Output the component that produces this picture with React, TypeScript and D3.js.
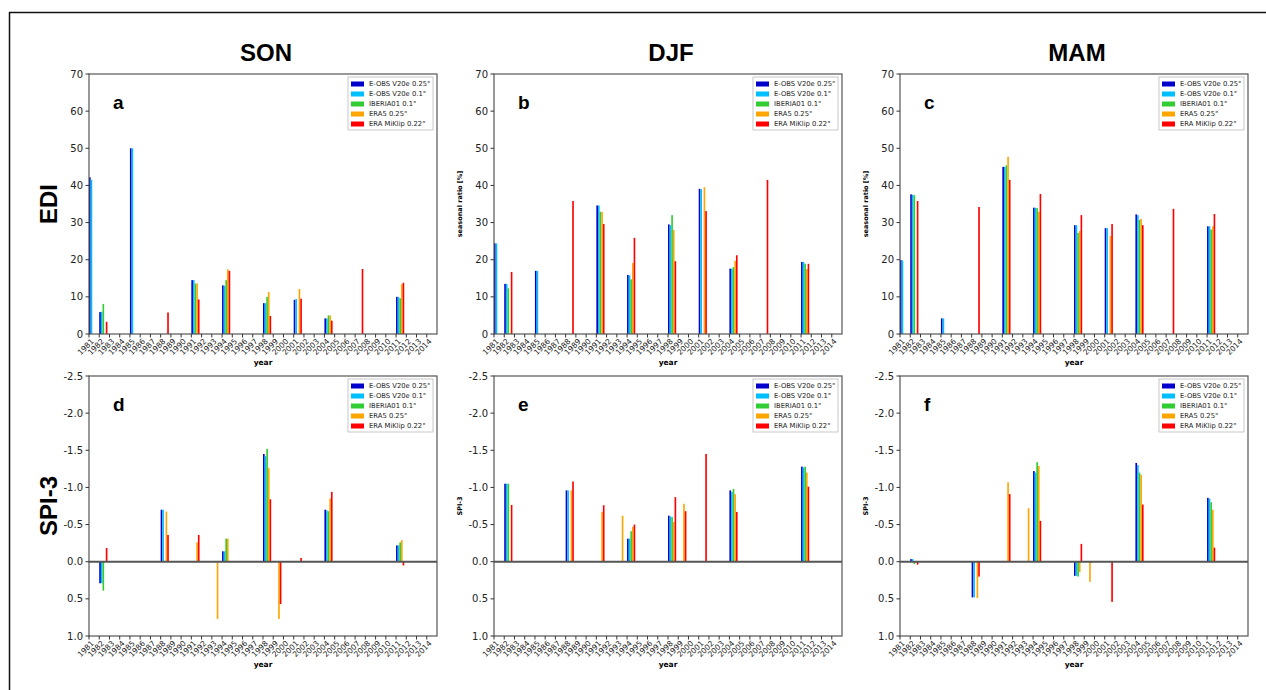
import React from "react";
import * as d3 from "d3";

const seasons = ["SON", "DJF", "MAM"];
const rowLabels = ["EDI", "SPI-3"];
const panelLetters = [["a", "b", "c"], ["d", "e", "f"]];
const seriesNames = ["E-OBS V20e 0.25°", "E-OBS V20e 0.1°", "IBERIA01 0.1°", "ERA5 0.25°", "ERA MiKlip 0.22°"];
const seriesColors = ["#0000cd", "#00bfff", "#32cd32", "#ffa500", "#ff0000"];
const allYears = d3.range(1981, 2015);

const ediYears = [1981, 1982, 1985, 1988, 1991, 1994, 1998, 2001, 2004, 2007, 2011];
const spiYears = [1982, 1988, 1991, 1993, 1994, 1998, 1999, 2001, 2004, 2011];

// EDI seasonal ratio [%]
const ediSonEobs025 = [42.2, 5.9, 50, null, 14.5, 13.1, 8.3, 9.2, 4.2, null, 10.0];
const ediSonEobs01 = [41.5, 6.0, 50, null, 14.5, 13.0, 8.3, 9.4, 4.2, null, 10.0];
const ediSonIberia = [null, 8.1, null, null, 13.6, 14.5, 10.0, null, 5.0, null, 9.6];
const ediSonEra5 = [null, null, null, null, 13.6, 17.4, 11.3, 12.1, 5.0, null, 13.4];
const ediSonMiklip = [null, 3.3, null, 5.8, 9.3, 17.0, 4.85, 9.5, 3.6, 17.5, 13.8];

const ediDjfEobs025 = [24.4, 13.5, 17.0, null, 34.6, 15.9, 29.5, 39.1, 17.6, null, 19.4];
const ediDjfEobs01 = [24.4, 13.5, 17.0, null, 34.6, 15.8, 29.3, 39.0, 17.6, null, 19.4];
const ediDjfIberia = [null, 12.3, null, null, 32.9, 14.7, 32.0, null, 18.0, null, 18.9];
const ediDjfEra5 = [null, null, null, null, 32.9, 19.1, 28.0, 39.5, 19.7, null, 17.5];
const ediDjfMiklip = [null, 16.7, null, 35.8, 29.6, 25.9, 19.6, 33.1, 21.2, 41.5, 18.9];

const ediMamEobs025 = [19.9, 37.6, 4.2, null, 45.0, 34.0, 29.3, 28.5, 32.2, null, 29.0];
const ediMamEobs01 = [19.8, 37.5, 4.2, null, 45.0, 34.0, 29.3, 28.5, 32.0, null, 29.0];
const ediMamIberia = [null, 37.4, null, null, 45.4, 33.9, 27.2, null, 30.7, null, 28.1];
const ediMamEra5 = [null, null, null, null, 47.7, 32.9, 27.7, 26.4, 31.0, null, 29.0];
const ediMamMiklip = [null, 35.8, null, 34.2, 41.5, 37.7, 32.0, 29.6, 29.3, 33.7, 32.3];

// SPI-3
const spiSonEobs025 = [0.29, -0.7, null, null, -0.14, -1.45, null, null, -0.7, -0.22];
const spiSonEobs01 = [0.29, -0.7, null, null, -0.14, -1.42, null, null, -0.69, -0.22];
const spiSonIberia = [0.39, null, null, null, -0.31, -1.52, null, null, -0.68, -0.26];
const spiSonEra5 = [null, -0.675, -0.26, 0.77, -0.31, -1.26, 0.77, null, -0.85, -0.29];
const spiSonMiklip = [-0.185, -0.36, -0.36, null, null, -0.84, 0.57, -0.05, -0.94, 0.05];

const spiDjfEobs025 = [-1.05, -0.96, null, null, -0.31, -0.62, null, null, -0.96, -1.28];
const spiDjfEobs01 = [-1.05, -0.96, null, null, -0.31, -0.61, null, null, -0.94, -1.27];
const spiDjfIberia = [-1.05, null, null, null, -0.41, -0.6, null, null, -0.98, -1.28];
const spiDjfEra5 = [null, -0.96, -0.67, -0.62, -0.47, -0.535, -0.78, null, -0.91, -1.2];
const spiDjfMiklip = [-0.765, -1.08, -0.76, null, -0.5, -0.87, -0.68, -1.45, -0.67, -1.01];

const spiMamEobs025 = [-0.035, 0.48, null, null, -1.22, 0.19, null, null, -1.33, -0.86];
const spiMamEobs01 = [-0.035, 0.48, null, null, -1.2, 0.19, null, null, -1.3, -0.85];
const spiMamIberia = [0.03, null, null, null, -1.34, 0.2, null, null, -1.2, -0.8];
const spiMamEra5 = [0.01, 0.49, -1.07, -0.72, -1.29, 0.14, 0.27, null, -1.17, -0.7];
const spiMamMiklip = [0.04, 0.2, -0.91, null, -0.55, -0.24, 0.01, 0.54, -0.77, -0.19];

const ediTicks = [0, 10, 20, 30, 40, 50, 60, 70];
const spiTicks = [-2.5, -2.0, -1.5, -1.0, -0.5, 0.0, 0.5, 1.0];

const panels = [
  [
    { years: ediYears, series: [ediSonEobs025, ediSonEobs01, ediSonIberia, ediSonEra5, ediSonMiklip] },
    { years: ediYears, series: [ediDjfEobs025, ediDjfEobs01, ediDjfIberia, ediDjfEra5, ediDjfMiklip] },
    { years: ediYears, series: [ediMamEobs025, ediMamEobs01, ediMamIberia, ediMamEra5, ediMamMiklip] },
  ],
  [
    { years: spiYears, series: [spiSonEobs025, spiSonEobs01, spiSonIberia, spiSonEra5, spiSonMiklip] },
    { years: spiYears, series: [spiDjfEobs025, spiDjfEobs01, spiDjfIberia, spiDjfEra5, spiDjfMiklip] },
    { years: spiYears, series: [spiMamEobs025, spiMamEobs01, spiMamIberia, spiMamEra5, spiMamMiklip] },
  ],
];

const colLeft = [89, 494, 900];
const rowTop = [74, 376];
const plotW = 348;
const plotH = 260;
const barStep = 0.16;

const tickFont = "'DejaVu Sans', sans-serif";
const titleFont = "'Liberation Sans', Arial, sans-serif";

function Panel({ row, col }: { row: number; col: number }) {
  const left = colLeft[col];
  const top = rowTop[row];
  const right = left + plotW;
  const bottom = top + plotH;
  const { years, series } = panels[row][col];
  const isEdi = row === 0;

  const x = d3.scaleLinear().domain([1981, 2015]).range([left, right]);
  const y = isEdi
    ? d3.scaleLinear().domain([0, 70]).range([bottom, top])
    : d3.scaleLinear().domain([-2.5, 1.0]).range([top, bottom]);
  const yTicks = isEdi ? ediTicks : spiTicks;
  const fmt = isEdi ? d3.format("d") : (v: number) => v.toFixed(1);

  return (
    <g>
      {series.map((vals, si) =>
        years.map((yr, yi) => {
          const v = vals[yi];
          if (v === null || v === undefined) return null;
          const x0 = x(yr + si * barStep);
          const x1 = x(yr + (si + 1) * barStep);
          const y0 = y(0);
          const y1 = y(v);
          return (
            <rect
              key={`${si}-${yr}`}
              x={x0}
              width={x1 - x0}
              y={Math.min(y0, y1)}
              height={Math.abs(y1 - y0)}
              fill={seriesColors[si]}
            />
          );
        })
      )}
      {!isEdi && <line x1={left} x2={right} y1={y(0)} y2={y(0)} stroke="#555" strokeWidth={2} />}
      <rect x={left} y={top} width={plotW} height={plotH} fill="none" stroke="#555" strokeWidth={1.2} />
      {yTicks.map((t) => (
        <g key={t}>
          <line x1={left - 3.5} x2={left} y1={y(t)} y2={y(t)} stroke="#333" />
          <text x={left - 6} y={y(t)} dy="0.35em" textAnchor="end" fontSize={10} fontFamily={tickFont} fill="#222">
            {fmt(t)}
          </text>
        </g>
      ))}
      {allYears.map((yr) => (
        <g key={yr}>
          <line x1={x(yr)} x2={x(yr)} y1={bottom} y2={bottom + 3.5} stroke="#333" />
          <text
            transform={`translate(${x(yr) + 3.5},${bottom + 6}) rotate(-45)`}
            textAnchor="end"
            dy="0.35em"
            fontSize={7.6}
            fontFamily={tickFont}
            fill="#222"
          >
            {yr}
          </text>
        </g>
      ))}
      <text x={(left + right) / 2} y={bottom + 31} textAnchor="middle" fontSize={7.5} fontWeight="bold" fontFamily={tickFont}>
        year
      </text>
      {col > 0 && (
        <text
          transform={`translate(${left - 32},${(top + bottom) / 2}) rotate(-90)`}
          textAnchor="middle"
          fontSize={6.5}
          fontWeight="bold"
          fontFamily={tickFont}
        >
          {isEdi ? "seasonal ratio [%]" : "SPI-3"}
        </text>
      )}
      <text x={left + 24} y={top + 35} fontSize={19} fontWeight="bold" fontFamily={titleFont}>
        {panelLetters[row][col]}
      </text>
      <g transform={`translate(${right - 89},${top + 3})`}>
        <rect x={0} y={0} width={85} height={53} fill="white" stroke="#bbb" strokeWidth={0.8} />
        {seriesNames.map((name, i) => (
          <g key={name} transform={`translate(0,${7 + i * 10})`}>
            <rect x={3} y={-2.5} width={13} height={5} fill={seriesColors[i]} />
            <text x={21} y={0} dy="0.35em" fontSize={6.8} fontFamily={tickFont} fill="#222">
              {name}
            </text>
          </g>
        ))}
      </g>
    </g>
  );
}

export default function App() {
  return (
    <div style={{ position: "absolute", left: 0, top: 0 }}>
      <svg width={1266} height={690} style={{ display: "block", background: "white" }}>
        <line x1={9} x2={1266} y1={12.5} y2={12.5} stroke="#111" strokeWidth={1.5} />
        <line x1={9.5} x2={9.5} y1={12} y2={690} stroke="#111" strokeWidth={1.5} />
        {seasons.map((s, c) => (
          <text
            key={s}
            x={colLeft[c] + plotW / 2 + 3}
            y={61}
            textAnchor="middle"
            fontSize={24}
            fontWeight="bold"
            fontFamily={titleFont}
          >
            {s}
          </text>
        ))}
        {rowLabels.map((l, r) => (
          <text
            key={l}
            transform={`translate(${57},${rowTop[r] + plotH / 2}) rotate(-90)`}
            textAnchor="middle"
            fontSize={24}
            fontWeight="bold"
            fontFamily={titleFont}
          >
            {l}
          </text>
        ))}
        {[0, 1].map((r) => [0, 1, 2].map((c) => <Panel key={`${r}-${c}`} row={r} col={c} />))}
      </svg>
    </div>
  );
}
